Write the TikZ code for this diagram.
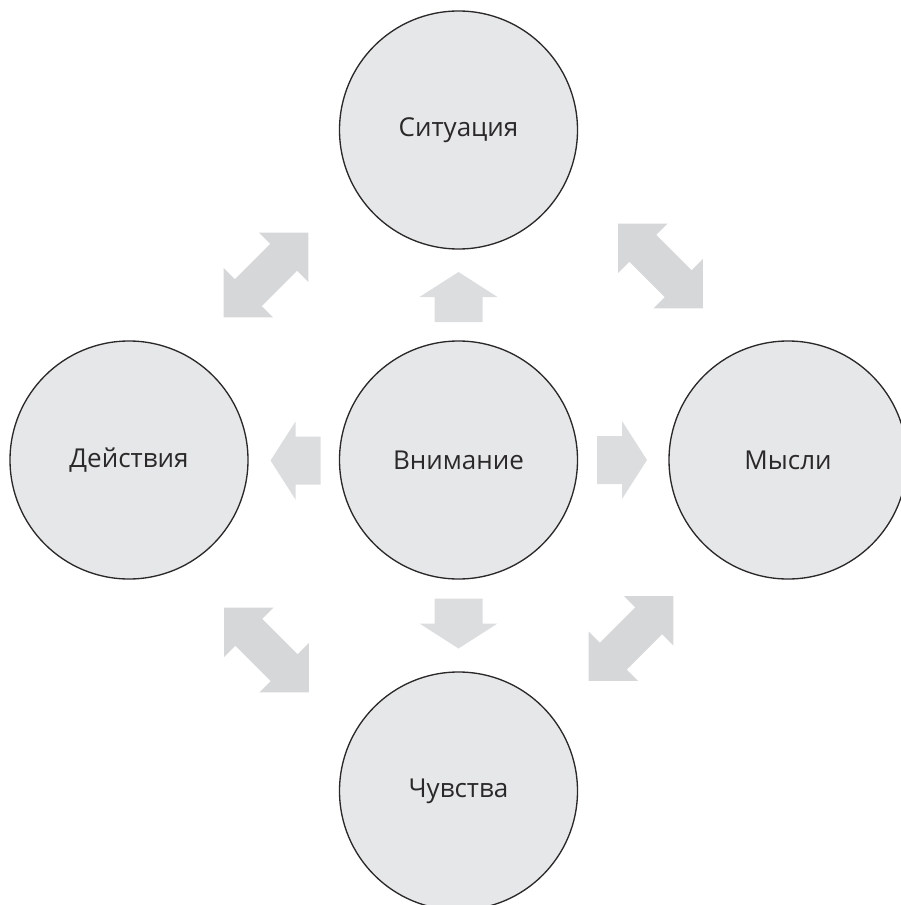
\documentclass[tikz,border=0pt]{standalone}
\usepackage{fontspec}
\setmainfont{Open Sans}
\definecolor{circfill}{HTML}{E6E7E8}
\definecolor{circline}{HTML}{2B2829}
\definecolor{arrfill}{HTML}{DCDDDE}
\definecolor{dblfill}{HTML}{D6D7D9}
\tikzset{every picture/.style={line width=0.75pt},
  stage/.style={circle,draw=circline,line width=1pt,fill=circfill,minimum size=178.5pt,inner sep=0pt,
    font=\fontsize{19.5}{23}\selectfont,text=circline},
  pics/fatarrow/.style={code={
    \fill[arrfill] (-25,-24) -- (0,-24) -- (0,-39) -- (25,0) -- (0,39) -- (0,24) -- (-25,24) -- cycle ;}},
  pics/fatdblarrow/.style={code={
    \fill[dblfill] (-60,0) -- (-25,-35) -- (-25,-19) -- (25,-19) -- (25,-35) -- (60,0) -- (25,35) -- (25,19) -- (-25,19) -- (-25,35) -- cycle ;}}
}
\begin{document}
\begin{tikzpicture}[x=0.75pt,y=0.75pt,yscale=-1,xscale=1]
	\useasboundingbox (0,0) rectangle (900,905);

	%Shape: Circle (centre)
	\node [stage] (att) at (458.5,460) {Внимание};
	%Shape: Circle (top)
	\node [stage] (sit) at (458.5,130) {Ситуация};
	%Shape: Circle (left)
	\node [stage] (act) at (129,460) {Действия};
	%Shape: Circle (right)
	\node [stage] (tho) at (788,460) {Мысли};
	%Shape: Circle (bottom)
	\node [stage] (fee) at (458.5,791) {Чувства};

	%Shape: Right Arrow
	\pic [rotate=90] at (458.5,297) {fatarrow};
	\pic [rotate=180] at (295.5,460.5) {fatarrow};
	\pic at (622,460) {fatarrow};
	\pic [rotate=-90] at (458.5,623.5) {fatarrow};

	%Shape: Left Right Arrow
	\pic [rotate=45] at (266,275) {fatdblarrow};
	\pic [rotate=-45] at (660.5,266) {fatdblarrow};
	\pic [rotate=-45] at (266.5,650) {fatdblarrow};
	\pic [rotate=45] at (631,638.5) {fatdblarrow};

\end{tikzpicture}
\end{document}
